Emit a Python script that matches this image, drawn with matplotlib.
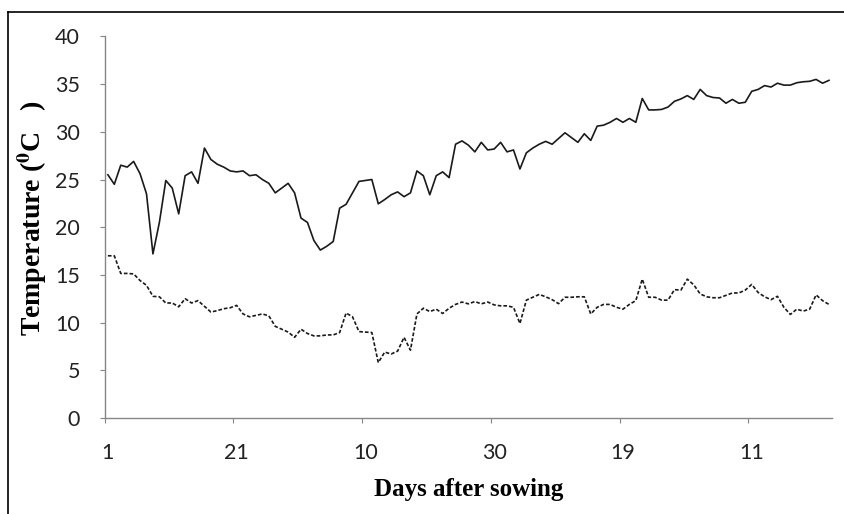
import numpy as np
import matplotlib
matplotlib.use('Agg')
from matplotlib import pyplot as plt
from matplotlib.lines import Line2D

# tick labels: day of month every 20 days
tick_labels = ['1', '21', '10', '30', '19', '11']

# daily maximum temperature (degC)
t_max = [25.5, 24.5, 26.5, 26.3, 26.9, 25.6, 23.5, 17.2, 20.5, 24.9,
         24.1, 21.4, 25.4, 25.8, 24.6, 28.3, 27.1, 26.6, 26.3, 25.9,
         25.8, 25.9, 25.4, 25.5, 25.0, 24.6, 23.6, 24.1, 24.6, 23.6,
         20.95, 20.5, 18.6, 17.6, 18.0, 18.5, 22.0, 22.4, 23.6, 24.8,
         24.9, 25.0, 22.45, 22.9, 23.4, 23.7, 23.2, 23.6, 25.9, 25.4,
         23.4, 25.4, 25.8, 25.2, 28.7, 29.05, 28.6, 27.9, 28.9, 28.1,
         28.2, 28.9, 27.9, 28.1, 26.1, 27.8, 28.3, 28.7, 29.0, 28.7,
         29.3, 29.9, 29.4, 28.9, 29.8, 29.1, 30.6, 30.7, 31.0, 31.4,
         31.0, 31.4, 31.0, 33.5, 32.3, 32.3, 32.35, 32.6, 33.2, 33.45,
         33.8, 33.4, 34.45, 33.8, 33.6, 33.55, 33.0, 33.4, 33.0, 33.1,
         34.25, 34.45, 34.85, 34.7, 35.1, 34.9, 34.9, 35.15, 35.25, 35.3,
         35.5, 35.1, 35.4]

# daily minimum temperature (degC)
t_min = [17.0, 17.0, 15.15, 15.15, 15.1, 14.4, 13.9, 12.75, 12.7, 12.05,
         12.05, 11.65, 12.5, 12.05, 12.3, 11.7, 11.1, 11.25, 11.45, 11.55,
         11.8, 10.9, 10.6, 10.75, 10.9, 10.7, 9.6, 9.3, 9.0, 8.45,
         9.3, 8.85, 8.6, 8.6, 8.7, 8.7, 8.95, 11.0, 10.6, 9.05,
         9.0, 8.95, 5.8, 6.9, 6.7, 7.0, 8.45, 7.1, 10.9, 11.5,
         11.15, 11.4, 10.95, 11.5, 11.9, 12.15, 11.96, 12.2, 11.96, 12.15,
         11.85, 11.75, 11.75, 11.6, 9.9, 12.35, 12.65, 12.95, 12.7, 12.4,
         11.98, 12.65, 12.65, 12.7, 12.7, 10.9, 11.6, 11.9, 11.9, 11.6,
         11.4, 11.9, 12.3, 14.55, 12.65, 12.65, 12.35, 12.35, 13.45, 13.4,
         14.55, 13.95, 13.0, 12.7, 12.6, 12.6, 12.85, 13.1, 13.1, 13.4,
         14.0, 13.15, 12.7, 12.4, 12.75, 11.6, 10.85, 11.4, 11.2, 11.4,
         12.9, 12.3, 11.9]

plt.rcParams['mathtext.fontset'] = 'stix'

days = np.arange(len(t_max))

fig = plt.figure(figsize=(8.44, 5.14), dpi=100)
ax = fig.add_axes([0.124, 0.187, 0.862, 0.742])

ax.plot(days, t_max, color='#1a1a1a', lw=1.2)
ax.plot(days, t_min, color='#1a1a1a', lw=1.2, linestyle=(0, (2.2, 1.2)))

ax.set_xlim(-0.5, len(days) - 0.5)
ax.set_ylim(0, 40)
ax.set_yticks(np.arange(0, 41, 5))

# category axis: tick marks between categories, labels on the categories
ax.set_xticks(np.arange(-0.5, len(days), 20))
ax.set_xticklabels([])
ax.set_xticks(np.arange(0, len(days), 20), minor=True)
ax.set_xticklabels(tick_labels, minor=True)
ax.tick_params(axis='x', which='minor', length=0, pad=18)
ax.tick_params(axis='x', which='major', length=3.8, direction='out', color='#868686')
ax.tick_params(axis='y', length=3.8, direction='out', color='#868686', pad=14)

for lab in ax.get_xticklabels(minor=True) + ax.get_yticklabels():
    lab.set_fontfamily('Lato')
    lab.set_fontsize(15.5)
    lab.set_color('#222222')

for s in ['top', 'right']:
    ax.spines[s].set_visible(False)
for s in ['left', 'bottom']:
    ax.spines[s].set_color('#868686')
    ax.spines[s].set_linewidth(1.0)

ax.set_xlabel('Days after sowing', fontfamily='Liberation Serif',
              fontweight='bold', fontsize=18, labelpad=11)
ax.set_ylabel(r'Temperature ($\mathbf{^0}$C   )', fontfamily='Liberation Serif',
              fontweight='bold', fontsize=20)
ax.yaxis.set_label_coords(-0.077, 0.524)

# chart area border (only top and left visible in the crop)
fig.add_artist(Line2D([8 / 844, 8 / 844], [0, 1 - 12 / 514], color='black', lw=1.2))
fig.add_artist(Line2D([8 / 844, 1], [1 - 12 / 514, 1 - 12 / 514], color='black', lw=1.2))

fig.savefig('out.png', dpi=100)
